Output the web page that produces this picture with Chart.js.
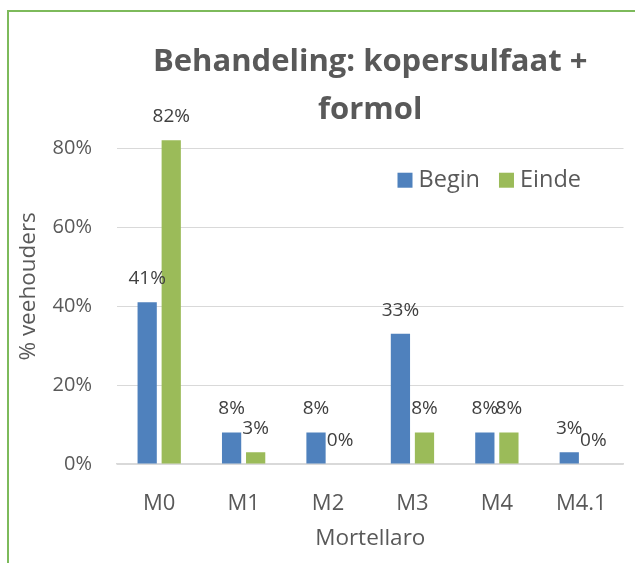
<!DOCTYPE html>
<html>
<head>
<meta charset="utf-8">
<script src="https://cdn.jsdelivr.net/npm/chart.js@4/dist/chart.umd.min.js"></script>
<style>
  html, body { margin: 0; padding: 0; background: #fff; overflow: hidden; }
  #frame {
    position: absolute; left: 7px; top: 10px;
    width: 800px; height: 800px;
    border: 2px solid #7DBA5B;
  }
  #wrap { position: absolute; left: 0; top: 0; width: 635px; height: 563px; }
</style>
</head>
<body>
<div id="frame"></div>
<div id="wrap"><canvas id="chart" width="635" height="563"></canvas></div>
<script>
const categories = ['M0', 'M1', 'M2', 'M3', 'M4', 'M4.1'];
const beginValues = [41, 8, 8, 33, 8, 3];
const eindeValues = [82, 3, 0, 8, 8, 0];
const yTicks = [0, 20, 40, 60, 80];

const FONT = "'Open Sans', sans-serif";
const TEXT = '#595959';

// Percentages written above each bar
const barLabels = {
    id: 'barLabels',
    afterDatasetsDraw(chart) {
        const ctx = chart.ctx;
        ctx.save();
        ctx.font = '19px ' + FONT;
        ctx.fillStyle = '#404040';
        ctx.textAlign = 'center';
        ctx.textBaseline = 'alphabetic';
        chart.data.datasets.forEach((ds, i) => {
            chart.getDatasetMeta(i).data.forEach((bar, j) => {
                ctx.fillText(ds.data[j] + '%', bar.x, bar.y - 18);
            });
        });
        ctx.restore();
    }
};

// Legend sitting inside the plot area, top right
const innerLegend = {
    id: 'innerLegend',
    afterDraw(chart) {
        const ctx = chart.ctx;
        const ca = chart.chartArea;
        let x = ca.right - 226;
        const y = ca.top + 64;
        ctx.save();
        ctx.font = '23.5px ' + FONT;
        ctx.textBaseline = 'middle';
        ctx.textAlign = 'left';
        chart.data.datasets.forEach(ds => {
            ctx.fillStyle = ds.backgroundColor;
            ctx.fillRect(x, y, 15, 15);
            ctx.fillStyle = TEXT;
            ctx.fillText(ds.label, x + 21, y + 8);
            x += 21 + ctx.measureText(ds.label).width + 19;
        });
        ctx.restore();
    }
};

// Center the title over the plot area rather than the whole canvas
const titleOverPlot = {
    id: 'titleOverPlot',
    afterLayout(chart) {
        if (chart.titleBlock) {
            chart.titleBlock.left = chart.chartArea.left;
            chart.titleBlock.right = chart.chartArea.right;
        }
    }
};

new Chart(document.getElementById('chart'), {
    type: 'bar',
    data: {
        labels: categories,
        datasets: [
            { label: 'Begin', data: beginValues, backgroundColor: '#4F81BD' },
            { label: 'Einde', data: eindeValues, backgroundColor: '#9BBB59' }
        ]
    },
    options: {
        responsive: false,
        animation: false,
        categoryPercentage: 0.57,
        barPercentage: 0.8,
        layout: { padding: { left: 2, right: 11.5, top: 0, bottom: 0 } },
        plugins: {
            legend: { display: false },
            tooltip: { enabled: false },
            title: {
                display: true,
                text: ['Behandeling: kopersulfaat +', 'formol'],
                color: TEXT,
                font: { family: FONT, size: 31, weight: 'bold', lineHeight: 1.56 },
                padding: { top: 38, bottom: -26 }
            }
        },
        scales: {
            x: {
                grid: { display: false },
                border: { display: true, color: '#D9D9D9', width: 1.5 },
                ticks: { color: TEXT, font: { family: FONT, size: 22 }, padding: 19 },
                title: {
                    display: true, text: 'Mortellaro', color: TEXT,
                    font: { family: FONT, size: 22.5, lineHeight: 1.2 },
                    padding: { top: 0, bottom: 11 }
                },
                afterFit(axis) { axis.height = 99; }
            },
            y: {
                min: 0,
                max: 90,
                grid: { color: '#D9D9D9', drawTicks: false },
                border: { display: false },
                afterBuildTicks(axis) {
                    axis.ticks = yTicks.map(v => ({ value: v }));
                },
                ticks: {
                    color: TEXT, font: { family: FONT, size: 20 }, padding: 25,
                    callback: v => v + '%'
                },
                title: {
                    display: true, text: '% veehouders', color: TEXT,
                    font: { family: FONT, size: 22.5, lineHeight: 1.2 },
                    padding: { top: 13, bottom: 0 }
                },
                afterFit(axis) { axis.width = 115; }
            }
        }
    },
    plugins: [barLabels, innerLegend, titleOverPlot]
});
</script>
</body>
</html>
